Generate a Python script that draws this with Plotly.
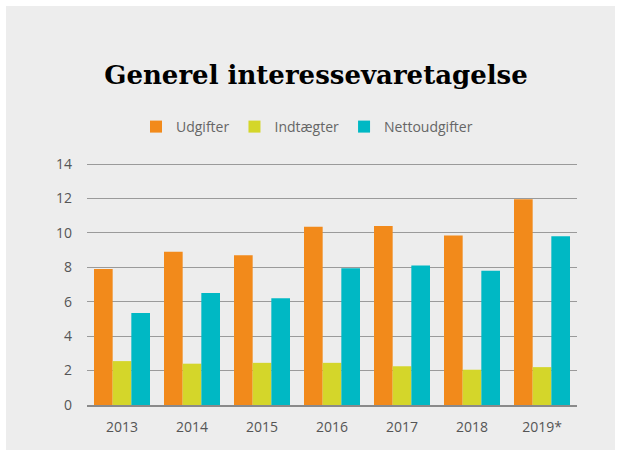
import plotly.graph_objects as go

years = ["2013", "2014", "2015", "2016", "2017", "2018", "2019*"]
udgifter = [7.9, 8.9, 8.7, 10.35, 10.4, 9.85, 11.95]
indtaegter = [2.55, 2.4, 2.45, 2.45, 2.25, 2.05, 2.2]
netto = [5.35, 6.5, 6.2, 7.95, 8.1, 7.8, 9.8]

colors = ["#f28a1b", "#d4d62a", "#00b8c4"]
names = ["Udgifter", "Indtægter", "Nettoudgifter"]

fig = go.Figure()
for name, vals, c in zip(names, [udgifter, indtaegter, netto], colors):
    fig.add_trace(go.Bar(x=years, y=vals, name=name, marker=dict(color=c, line=dict(width=0))))

W, H = 621, 455
L, R, T, B = 87, 44, 163, 50
pw, ph = W - L - R, H - T - B

def px_x(p):
    return (p - L) / pw

def px_y(p):
    return (H - B - p) / ph

fig.add_shape(type="rect", xref="paper", yref="paper",
              x0=px_x(6), x1=px_x(615), y0=px_y(450), y1=px_y(6),
              fillcolor="#ededed", line=dict(width=0), layer="below")

fig.update_layout(
    width=W, height=H,
    margin=dict(l=L, r=R, t=T, b=B),
    paper_bgcolor="white",
    plot_bgcolor="rgba(0,0,0,0)",
    barmode="group",
    bargap=0.2,
    bargroupgap=0,
    title=dict(text="<b>Generel interessevaretagelse</b>", x=px_x(316), xanchor="center",
               xref="paper", y=1 - 75 / H, yanchor="middle",
               font=dict(family="DejaVu Serif", size=26, color="black")),
    legend=dict(orientation="h", x=px_x(307), xanchor="center", xref="paper",
                y=px_y(127), yanchor="middle",
                font=dict(family="Open Sans", size=14, color="#666666"),
                bgcolor="rgba(0,0,0,0)", itemwidth=30, traceorder="normal"),
    font=dict(family="Open Sans", color="#555555"),
)
fig.update_yaxes(range=[0, 14.06], tickvals=[0, 2, 4, 6, 8, 10, 12, 14],
                 showgrid=True, gridcolor="#9a9a9a", gridwidth=1,
                 zeroline=False, showline=False, ticks="", ticklabelstandoff=14,
                 tickfont=dict(size=14, color="#555555"))
fig.update_xaxes(showgrid=False, showline=True, linecolor="#8a8a8a", linewidth=1.5,
                 ticks="", tickfont=dict(size=14, color="#555555"), ticklabelstandoff=8)

fig.write_html("out.html", config={"displayModeBar": False},
               post_script="document.body.style.margin='0';document.body.style.padding='0';")
